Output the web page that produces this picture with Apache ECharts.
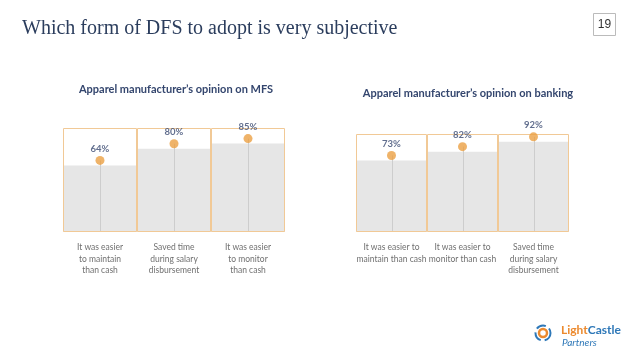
<!DOCTYPE html>
<html><head><meta charset="utf-8">
<script src="https://cdn.jsdelivr.net/npm/echarts@6/dist/echarts.min.js"></script>
<style>html,body{margin:0;padding:0;background:#fff}#c{width:638px;height:359px}</style>
</head><body><div id="c"></div>
<script>
const mfsCategories = ['It was easier\nto maintain\nthan cash', 'Saved time\nduring salary\ndisbursement', 'It was easier\nto monitor\nthan cash'];
const mfsValues = [64, 80, 85];
const bankCategories = ['It was easier to\nmaintain than cash', 'It was easier to\nmonitor than cash', 'Saved time\nduring salary\ndisbursement'];
const bankValues = [73, 82, 92];
const fullScale = [100, 100, 100];

const chart = echarts.init(document.getElementById('c'));
const grids = [
  {left: 63, top: 128, width: 222, height: 104},
  {left: 356, top: 134, width: 213, height: 98}
];
const sets = [[mfsCategories, mfsValues], [bankCategories, bankValues]];
const xAxis = [], yAxis = [], series = [];
sets.forEach(([cats, vals], i) => {
  xAxis.push({type: 'category', gridIndex: i, data: cats, axisLine: {show: false}, axisTick: {show: false},
    axisLabel: {interval: 0, color: '#707070', fontFamily: 'Lato', fontSize: 8.5, lineHeight: 11.5, margin: 10}});
  yAxis.push({type: 'value', gridIndex: i, min: 0, max: 100, show: false});
  series.push({type: 'bar', xAxisIndex: i, yAxisIndex: i, data: vals, barWidth: '100%', barGap: '-100%',
    itemStyle: {color: '#e6e6e6'}, silent: true, z: 1});
  series.push({type: 'bar', xAxisIndex: i, yAxisIndex: i, data: fullScale, barWidth: '100%', barGap: '-100%',
    itemStyle: {color: 'rgba(0,0,0,0)', borderColor: '#f1c996', borderWidth: 1}, silent: true, z: 3});
  series.push({type: 'custom', xAxisIndex: i, yAxisIndex: i, data: vals.map((v, k) => [k, v]), z: 2, silent: true,
    renderItem: (params, api) => {
      const p0 = api.coord([api.value(0), 0]);
      const p1 = api.coord([api.value(0), api.value(1)]);
      return {type: 'line', shape: {x1: Math.round(p0[0]) + 0.5, y1: p0[1], x2: Math.round(p1[0]) + 0.5, y2: p1[1] - 5},
        style: {stroke: '#cdcdcd', lineWidth: 1}};
    }});
  series.push({type: 'scatter', xAxisIndex: i, yAxisIndex: i, data: vals, symbolSize: 9, symbolOffset: [0, -5],
    itemStyle: {color: '#eba043'}, z: 4,
    label: {show: true, position: 'top', distance: 2, formatter: '{c}%', color: '#3a4a72', fontFamily: 'Lato', fontWeight: 'bold', fontSize: 9.5}});
});

chart.setOption({
  animation: false,
  grid: grids,
  xAxis, yAxis, series,
  title: [
    {text: 'Which form of DFS to adopt is very subjective', left: 17, top: 14,
      textStyle: {fontFamily: 'Liberation Serif', fontWeight: 'normal', fontSize: 20, color: '#2b3d5d'}},
    {text: 'Apparel manufacturer\u2019s opinion on MFS', left: 171, top: 78.5, textAlign: 'center',
      textStyle: {fontFamily: 'Lato', fontWeight: 'bold', fontSize: 11, color: '#34466e'}},
    {text: 'Apparel manufacturer\u2019s opinion on banking', left: 463, top: 82.5, textAlign: 'center',
      textStyle: {fontFamily: 'Lato', fontWeight: 'bold', fontSize: 11, color: '#34466e'}}
  ],
  graphic: [
    {type: 'rect', shape: {x: 593.5, y: 13.5, width: 22, height: 22}, style: {fill: '#fff', stroke: '#bbbbbb', lineWidth: 1}},
    {type: 'text', x: 604.5, y: 25, style: {text: '19', fill: '#333', font: '12px "Liberation Sans"', align: 'center', verticalAlign: 'middle'}},
    {type: 'circle', shape: {cx: 543, cy: 333, r: 7.5}, style: {fill: 'none', stroke: '#2e78b8', lineWidth: 2, lineDash: [10, 4]}},
    {type: 'circle', shape: {cx: 543, cy: 333, r: 4}, style: {fill: 'none', stroke: '#ec8a2e', lineWidth: 2.5}},
    {type: 'text', x: 561, y: 330, style: {text: '{a|Light}{b|Castle}', verticalAlign: 'middle',
      rich: {a: {fill: '#ec8a2e', font: 'bold 12px Lato'}, b: {fill: '#2e78b8', font: 'bold 12px Lato'}}}},
    {type: 'text', x: 562, y: 343, style: {text: 'Partners', fill: '#2e78b8', font: 'italic 10px Lato', verticalAlign: 'middle'}}
  ]
});
</script></body></html>
